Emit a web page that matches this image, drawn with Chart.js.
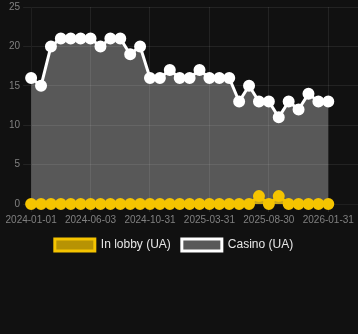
<!DOCTYPE html>
<html>
<head>
<meta charset="utf-8">
<script src="https://cdn.jsdelivr.net/npm/chart.js@4/dist/chart.umd.min.js"></script>
<style>
    html, body { margin: 0; padding: 0; background: #111111; }
    #wrap { width: 358px; height: 261px; position: relative; }
</style>
</head>
<body>
<div id="wrap"><canvas id="chart"></canvas></div>
<script>
// one point every ~25 days, only every 6th date is labelled on the axis
const tickLabels = ["2024-01-01", "2024-06-03", "2024-10-31", "2025-03-31", "2025-08-30", "2026-01-31"];
const inLobby = [0, 0, 0, 0, 0, 0, 0, 0, 0, 0, 0, 0, 0, 0, 0, 0, 0, 0, 0, 0, 0, 0, 0, 1, 0, 1, 0, 0, 0, 0, 0];
const casino = [16, 15, 20, 21, 21, 21, 21, 20, 21, 21, 19, 20, 16, 16, 17, 16, 16, 17, 16, 16, 16, 13, 15, 13, 13, 11, 13, 12, 14, 13, 13];

const yellow = "#f5c400";
const toPoints = (arr) => arr.map((v, i) => ({x: i, y: v}));

// legend sits a little left of centre
const legendShift = {
    id: "legendShift",
    afterLayout(chart) {
        chart.legend.left -= 8;
        chart.legend.right -= 8;
    },
};

new Chart(document.getElementById("chart"), {
    type: "line",
    data: {
        datasets: [
            {
                label: "In lobby (UA)",
                data: toPoints(inLobby),
                borderColor: yellow,
                backgroundColor: "rgba(245,196,0,0.73)",
                pointBackgroundColor: yellow,
                pointBorderColor: yellow,
                borderWidth: 3,
                pointRadius: 4.5,
                fill: true,
                clip: false,
            },
            {
                label: "Casino (UA)",
                data: toPoints(casino),
                borderColor: "#ffffff",
                backgroundColor: "rgba(255,255,255,0.3)",
                pointBackgroundColor: "#ffffff",
                pointBorderColor: "#ffffff",
                borderWidth: 3,
                pointRadius: 4.5,
                fill: true,
                clip: false,
            },
        ],
    },
    options: {
        responsive: true,
        maintainAspectRatio: false,
        animation: false,
        layout: {autoPadding: false, padding: {left: 6}},
        scales: {
            x: {
                type: "linear",
                min: 0,
                max: 33,
                grid: {color: "rgba(255,255,255,0.08)"},
                ticks: {
                    stepSize: 6,
                    includeBounds: false,
                    padding: 2,
                    color: "#808080",
                    font: {size: 10},
                    maxRotation: 0,
                    callback: (v) => tickLabels[v / 6] ?? "",
                },
            },
            y: {
                min: 0,
                max: 25,
                grid: {color: "rgba(255,255,255,0.08)"},
                ticks: {stepSize: 5, color: "#808080", font: {size: 10, lineHeight: 0.8}},
            },
        },
        plugins: {
            legend: {
                position: "bottom",
                labels: {color: "#e6e6e6", font: {size: 12}, padding: 11},
            },
            tooltip: {enabled: false},
        },
    },
    plugins: [legendShift],
});
</script>
</body>
</html>
